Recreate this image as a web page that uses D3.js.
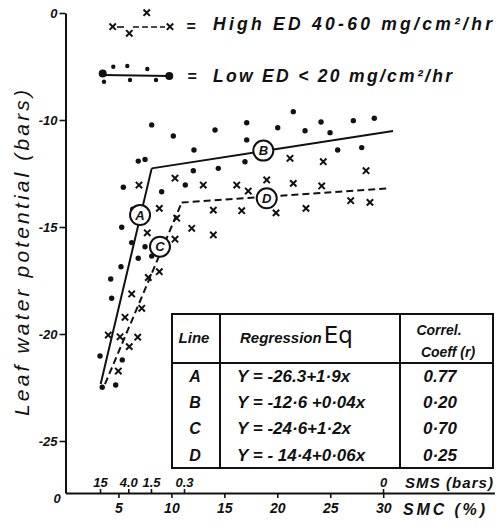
<!DOCTYPE html>
<html><head><meta charset="utf-8">
<script src="https://cdn.jsdelivr.net/npm/d3@7"></script>
<style>
html,body{margin:0;padding:0;background:#fff;}
svg{display:block;}
text{font-family:"Liberation Sans",Arial,sans-serif;fill:#111;}
</style></head><body>
<svg id="c" width="500" height="526"></svg>
<script>
// ---- data ----
const lowEdX = [8.14,10.18,14.12,12.13,6.87,7.51,5.46,9.08,11.31,12.07,14.43,6.35,5.31,21.51,17.11,20.04,22.62,24.13,24.98,27.18,29.16,17.11,25.70,27.97,16.95,6.25,7.51,6.87,8.14,5.24,4.27,4.36,3.26,5.36,4.74,3.47];
const lowEdY = [-10.23,-10.75,-10.47,-11.40,-11.92,-11.84,-13.14,-13.35,-13.04,-12.37,-12.26,-14.17,-15.01,-9.22,-10.13,-10.36,-10.50,-10.09,-10.59,-10.03,-9.84,-10.93,-11.40,-11.29,-11.95,-15.73,-15.92,-16.46,-16.36,-16.86,-17.43,-18.33,-21.03,-21.21,-22.38,-22.49];
const highEdX = [6.94,10.34,13.01,8.86,13.96,10.50,7.72,11.92,13.96,21.20,24.34,28.38,16.17,19.00,21.51,24.19,17.26,16.64,19.88,22.71,26.93,28.75,10.34,8.86,7.82,6.25,7.20,5.62,4.04,5.15,6.82,6.02,4.99];
const highEdY = [-13.04,-12.72,-13.04,-14.13,-14.21,-14.59,-15.27,-15.06,-15.37,-11.79,-11.95,-12.37,-13.04,-12.80,-12.96,-13.08,-13.32,-14.24,-14.34,-14.13,-13.77,-13.85,-15.57,-17.09,-17.36,-18.13,-18.80,-19.22,-20.05,-20.13,-20.15,-20.59,-21.73];
const lineNames = ["A","B","C","D"];
const lineX0 = [3.32, 8.14, 3.73, 10.97];
const lineY0 = [-22.34, -12.26, -22.34, -13.86];
const lineX1 = [8.14, 30.93, 10.97, 30.64];
const lineY1 = [-12.26, -10.51, -13.86, -13.19];
const labelX = [7.04, 18.68, 8.92, 19.00];
const labelY = [-14.44, -11.43, -15.92, -13.66];
const equations = ["Y = -26.3+1·9x","Y = -12·6 +0·04x","Y = -24·6+1·2x","Y = - 14·4+0·06x"];
const correlations = ["0.77","0·20","0·70","0·25"];
const yTicks = [0,-10,-15,-20,-25];
const smcTicks = [5,10,15,20,25,30];
const smsLabels = ["15","4.0","1.5","0.3","0"];
const smsAtSmc = [3.26,5.93,8.07,11.19,29.98];
const legendHigh = "High  ED  40-60  mg/cm²/hr";
const legendLow = "Low  ED  < 20  mg/cm²/hr";

// ---- drawing ----
const svg = d3.select("#c");
const ink = "#111";
const x = d3.scaleLinear().domain([0, 40.5]).range([65.5, 494.4]);
const y = d3.scaleLinear().domain([0, -10, -27.43]).range([13, 120, 493]);
const FONT = "font-weight:bold;font-style:italic;";

// y axis
const ya = svg.append("g").attr("transform", `translate(${x(0)},0)`)
  .call(d3.axisLeft(y).tickValues(yTicks).tickSize(6).tickSizeOuter(0).tickPadding(2).tickFormat(d => d));
ya.select(".domain").attr("stroke", ink).attr("stroke-width", 2);
ya.selectAll(".tick line").attr("stroke", ink).attr("stroke-width", 1.6);
ya.selectAll(".tick text").attr("style", FONT + "font-size:13px;fill:" + ink);

// x axis SMC
const xa = svg.append("g").attr("transform", `translate(0,${y(-27.43)})`)
  .call(d3.axisBottom(x).tickValues(smcTicks).tickSize(5).tickSizeOuter(0).tickPadding(5));
xa.select(".domain").attr("stroke", ink).attr("stroke-width", 2);
xa.selectAll(".tick line").attr("stroke", ink).attr("stroke-width", 1.6);
xa.selectAll(".tick text").attr("style", FONT + "font-size:14px;fill:" + ink);

// SMS axis (top side of same line)
const sa = svg.append("g").attr("transform", `translate(0,${y(-27.43)})`)
  .call(d3.axisTop(x).tickValues(smsAtSmc).tickSize(4).tickPadding(2).tickFormat((d, i) => smsLabels[i]));
sa.select(".domain").remove();
sa.selectAll(".tick line").attr("stroke", ink).attr("stroke-width", 1.6);
sa.selectAll(".tick text").attr("style", FONT + "font-size:13px;fill:" + ink);

svg.append("text").attr("x", 405).attr("y", 488).attr("style", FONT + "font-size:15px")
  .attr("textLength", 88).attr("lengthAdjust", "spacing").text("SMS (bars)");
svg.append("text").attr("x", 403).attr("y", 515).attr("style", FONT + "font-size:16px")
  .attr("textLength", 82).attr("lengthAdjust", "spacing").text("SMC (%)");
svg.append("text").attr("x", 57).attr("y", 503).attr("text-anchor", "middle").attr("style", FONT + "font-size:13px").text("0");

// y title
svg.append("text").attr("transform", "translate(29,253) rotate(-90)")
  .attr("text-anchor", "middle").attr("style", "font-style:italic;font-size:21px")
  .attr("textLength", 326).attr("lengthAdjust", "spacing")
  .text("Leaf water potential (bars)");

// regression lines
const lines = lineNames.map((n, i) => ({n, x0: lineX0[i], y0: lineY0[i], x1: lineX1[i], y1: lineY1[i]}));
svg.append("g").selectAll("line").data(lines).join("line")
  .attr("x1", d => x(d.x0)).attr("y1", d => y(d.y0))
  .attr("x2", d => x(d.x1)).attr("y2", d => y(d.y1))
  .attr("stroke", ink).attr("stroke-width", 2)
  .attr("stroke-dasharray", d => (d.n === "C" || d.n === "D") ? "7,4" : null);

// points
const low = lowEdX.map((v, i) => [v, lowEdY[i]]);
const high = highEdX.map((v, i) => [v, highEdY[i]]);
svg.append("g").selectAll("circle").data(low).join("circle")
  .attr("cx", d => x(d[0])).attr("cy", d => y(d[1])).attr("r", 2.7).attr("fill", ink);
const cross = d3.symbol().type(d3.symbolTimes || d3.symbolCross).size(28);
svg.append("g").selectAll("path").data(high).join("path")
  .attr("transform", d => `translate(${x(d[0])},${y(d[1])})` + (d3.symbolTimes ? "" : " rotate(45)"))
  .attr("d", cross).attr("stroke", ink).attr("stroke-width", 2).attr("fill", d3.symbolTimes ? "none" : ink);

// circled labels
const lab = svg.append("g").selectAll("g").data(lineNames.map((n, i) => ({n, x: labelX[i], y: labelY[i]}))).join("g")
  .attr("transform", d => `translate(${x(d.x)},${y(d.y)})`);
lab.append("circle").attr("r", 10).attr("fill", "#fff").attr("stroke", ink).attr("stroke-width", 2);
lab.append("text").attr("text-anchor", "middle").attr("dy", "0.36em").attr("style", FONT + "font-size:13px").text(d => d.n);

// legend
const lg = svg.append("g");
[[112.7, 26.7], [129.3, 33.3], [146.7, 12.7], [170, 26.7]].forEach(p => {
  lg.append("path").attr("transform", `translate(${p[0]},${p[1]})`).attr("d", cross)
    .attr("stroke", ink).attr("stroke-width", 2).attr("fill", "none");
});
lg.append("line").attr("x1", 117).attr("x2", 124).attr("y1", 27).attr("y2", 27).attr("stroke", ink).attr("stroke-width", 1.6);
lg.append("line").attr("x1", 133).attr("x2", 165).attr("y1", 27).attr("y2", 27).attr("stroke", ink).attr("stroke-width", 1.6).attr("stroke-dasharray", "6,3");
lg.append("text").attr("x", 191).attr("y", 32).attr("text-anchor", "middle").attr("style", FONT + "font-size:16px").text("=");
lg.append("text").attr("x", 213).attr("y", 30).attr("style", FONT + "font-size:17.5px")
  .attr("textLength", 279).attr("lengthAdjust", "spacing").text(legendHigh);
lg.append("line").attr("x1", 103).attr("x2", 169).attr("y1", 75).attr("y2", 76).attr("stroke", ink).attr("stroke-width", 2);
[[102.7, 73.5, 4], [169.3, 76, 4], [113.3, 66.7, 2.2], [127.3, 66, 2.2], [147.3, 69, 2.2], [104, 81.7, 2.2], [130, 80, 2.2], [156, 80, 2.2]].forEach(p => {
  lg.append("circle").attr("cx", p[0]).attr("cy", p[1]).attr("r", p[2]).attr("fill", ink);
});
lg.append("text").attr("x", 192).attr("y", 82).attr("text-anchor", "middle").attr("style", FONT + "font-size:16px").text("=");
lg.append("text").attr("x", 213).attr("y", 82).attr("style", FONT + "font-size:17.5px")
  .attr("textLength", 239).attr("lengthAdjust", "spacing").text(legendLow);

// table
const T = {x0: 172, x1: 493, y0: 314, yh: 363, y1: 468, c1: 220, c2: 400};
const tb = svg.append("g");
tb.append("rect").attr("x", T.x0).attr("y", T.y0).attr("width", T.x1 - T.x0).attr("height", T.y1 - T.y0)
  .attr("fill", "#fff").attr("stroke", ink).attr("stroke-width", 2);
tb.append("line").attr("x1", T.x0).attr("x2", T.x1).attr("y1", T.yh).attr("y2", T.yh).attr("stroke", ink).attr("stroke-width", 2);
[T.c1, T.c2].forEach(c => tb.append("line").attr("x1", c).attr("x2", c).attr("y1", T.y0).attr("y2", T.y1).attr("stroke", ink).attr("stroke-width", 2));
tb.append("text").attr("x", 194).attr("y", 343).attr("text-anchor", "middle").attr("style", FONT + "font-size:15px").text("Line");
const rg = tb.append("text").attr("x", 240).attr("y", 343).attr("style", FONT + "font-size:15px");
rg.append("tspan").text("Regression");
rg.append("tspan").attr("dx", 2).attr("style", "font-family:'DejaVu Sans';font-style:normal;font-weight:normal;font-size:23px").text("Eq");
tb.append("text").attr("x", 439).attr("y", 335).attr("text-anchor", "middle").attr("style", FONT + "font-size:14px").text("Correl.");
tb.append("text").attr("x", 448).attr("y", 357).attr("text-anchor", "middle").attr("style", FONT + "font-size:14px").text("Coeff (r)");
const rowY = [382, 408, 434, 461];
lineNames.forEach((n, i) => {
  tb.append("text").attr("x", 195).attr("y", rowY[i]).attr("text-anchor", "middle").attr("style", FONT + "font-size:16px").text(n);
  tb.append("text").attr("x", 237).attr("y", rowY[i]).attr("style", FONT + "font-size:17px").text(equations[i]);
  tb.append("text").attr("x", 440).attr("y", rowY[i]).attr("text-anchor", "middle").attr("style", FONT + "font-size:17px").text(correlations[i]);
});
</script>
</body></html>
